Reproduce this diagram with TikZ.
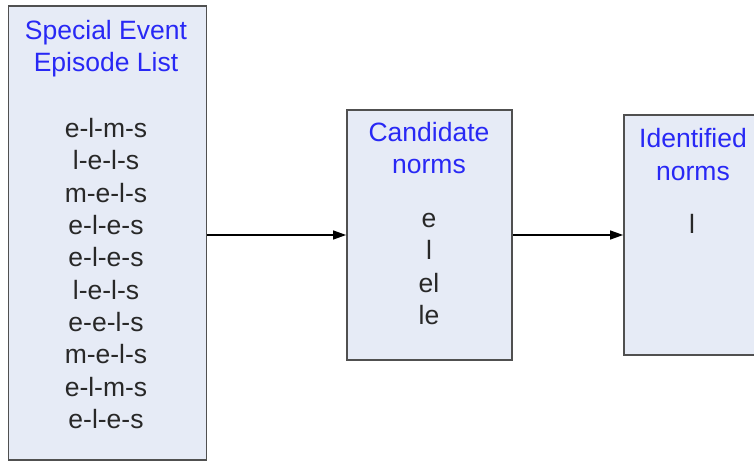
\documentclass[tikz,border=0pt]{standalone}
\usepackage{fontspec}
\setmainfont{Liberation Sans}
\usetikzlibrary{arrows.meta}
\definecolor{boxfill}{RGB}{230,235,246}
\definecolor{boxline}{RGB}{80,80,80}
\definecolor{titleblue}{RGB}{40,40,245}
\definecolor{itemgray}{RGB}{40,40,40}
\tikzset{
  panel/.style={draw=boxline, fill=boxfill, line width=1.8pt, inner sep=0pt},
  ttl/.style={text=titleblue, align=center, inner sep=0pt, font=\fontsize{26.5pt}{32.3pt}\selectfont},
  itm/.style={text=itemgray, align=center, inner sep=0pt, font=\fontsize{26.5pt}{32.3pt}\selectfont},
  flow/.style={line width=1.2pt, -{Triangle[length=13pt,width=9pt]}}
}
\begin{document}
\begin{tikzpicture}[x=1pt,y=-1pt]
\useasboundingbox (0,0) rectangle (754,462);
\clip (0,0) rectangle (754,462);
\node[panel, minimum width=198pt, minimum height=454pt] (b1) at (107.5,233) {};
\node[panel, minimum width=165pt, minimum height=250pt] (b2) at (429.5,235) {};
\node[panel, minimum width=140pt, minimum height=240pt] (b3) at (694,235) {};
\node[ttl] (t1) at (106,49) {Special Event\\Episode List};
\node[itm] (l1) at (106,273.5) {e-l-m-s\\l-e-l-s\\m-e-l-s\\e-l-e-s\\e-l-e-s\\l-e-l-s\\e-e-l-s\\m-e-l-s\\e-l-m-s\\e-l-e-s};
\node[ttl] (t2) at (429,148) {Candidate\\norms};
\node[itm] (l2) at (429,269) {e\\l\\el\\le};
\node[ttl] (t3) at (693,154.5) {Identified\\norms};
\node[itm] (l3) at (692,224) {l};
\draw[flow] (b1.east |- b2.west) -- (b2.west);
\draw[flow] (b2.east) -- (b3.west);
\end{tikzpicture}
\end{document}
